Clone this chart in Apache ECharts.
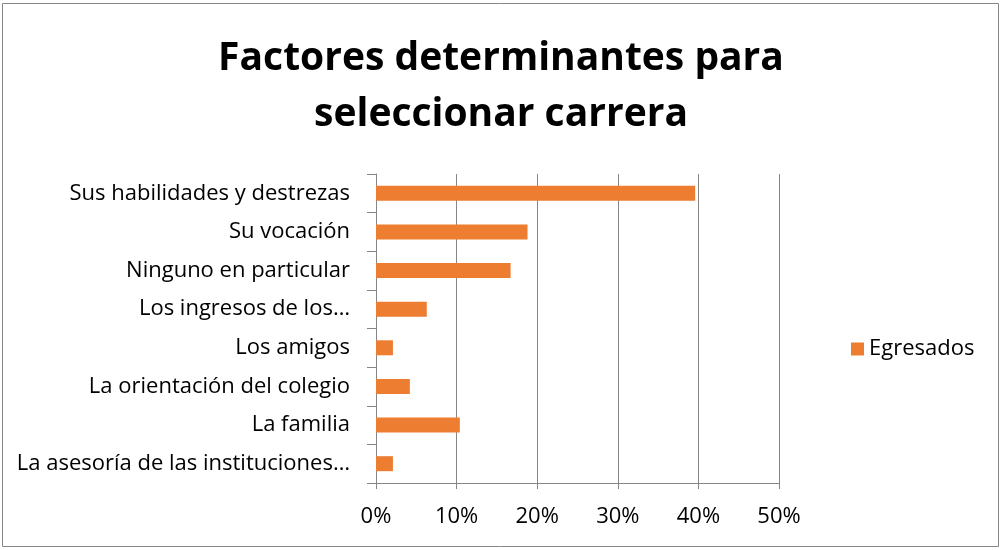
<!DOCTYPE html>
<html>
<head>
<meta charset="UTF-8">
<title>Factores determinantes</title>
<script src="https://cdn.jsdelivr.net/npm/echarts@6/dist/echarts.min.js"></script>
<style>
  html, body { margin: 0; padding: 0; background: #fff; }
  #main { width: 1002px; height: 550px; }
</style>
</head>
<body>
<div id="main"></div>
<script>
  // datos
  var categorias = [
    'Sus habilidades y destrezas',
    'Su vocación',
    'Ninguno en particular',
    'Los ingresos de los…',
    'Los amigos',
    'La orientación del colegio',
    'La familia',
    'La asesoría de las instituciones…'
  ];
  var egresados = [39.6, 18.8, 16.7, 6.3, 2.1, 4.2, 10.4, 2.1];
  var ticksX = [0, 10, 20, 30, 40, 50];

  var fuente = '"Open Sans", "Noto Sans", sans-serif';
  var gris = '#868686';

  var myChart = echarts.init(document.getElementById('main'));
  var option = {
    animation: false,
    textStyle: { fontFamily: fuente },
    title: {
      text: 'Factores determinantes para\nseleccionar carrera',
      left: 'center',
      top: 26,
      textStyle: {
        fontFamily: fuente,
        fontSize: 39,
        fontWeight: 'bold',
        color: '#000',
        lineHeight: 56
      }
    },
    legend: {
      data: ['Egresados'],
      left: 846,
      top: 333,
      itemWidth: 13,
      itemHeight: 13,
      itemGap: 6,
      icon: 'rect',
      textStyle: { fontFamily: fuente, fontSize: 22, color: '#000' }
    },
    graphic: [{
      type: 'rect',
      shape: { x: 2.5, y: 3.5, width: 996, height: 543 },
      style: { fill: 'none', stroke: gris, lineWidth: 1 },
      silent: true
    }],
    grid: { left: 376, right: 223, top: 174, bottom: 67 },
    xAxis: {
      type: 'value',
      min: ticksX[0],
      max: ticksX[ticksX.length - 1],
      interval: 10,
      axisLine: { show: true, lineStyle: { color: gris } },
      axisTick: { show: true, length: 6, lineStyle: { color: gris } },
      splitLine: { show: true, lineStyle: { color: gris, width: 1 } },
      axisLabel: {
        formatter: '{value}%',
        fontFamily: fuente,
        fontSize: 22,
        color: '#000',
        margin: 23
      }
    },
    yAxis: {
      type: 'category',
      inverse: true,
      data: categorias,
      axisLine: { show: true, lineStyle: { color: gris } },
      axisTick: { show: true, length: 9, lineStyle: { color: gris } },
      axisLabel: {
        fontFamily: fuente,
        fontSize: 22,
        color: '#000',
        margin: 26
      }
    },
    series: [{
      name: 'Egresados',
      type: 'bar',
      barWidth: 15,
      data: egresados,
      itemStyle: { color: '#ED7D31' }
    }]
  };
  myChart.setOption(option);
</script>
</body>
</html>
